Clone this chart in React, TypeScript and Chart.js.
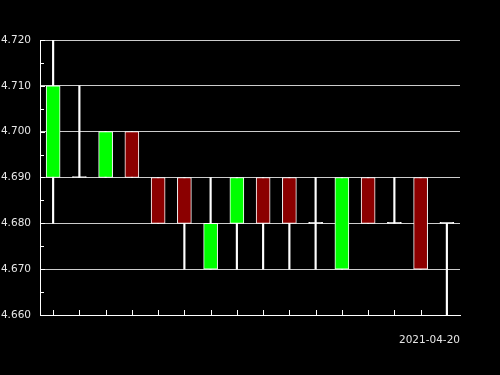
import React, { useEffect, useRef } from 'react';
import { Chart, registerables } from 'chart.js';

Chart.register(...registerables);

// Session of 2021-04-20, one candle per period
const categories = [
  '00:00', '01:00', '02:00', '03:00', '04:00', '05:00', '06:00', '07:00',
  '08:00', '09:00', '10:00', '11:00', '12:00', '13:00', '14:00', '15:00',
];
const opens = [4.69, 4.69, 4.69, 4.7, 4.69, 4.69, 4.67, 4.68, 4.69, 4.69, 4.68, 4.67, 4.69, 4.68, 4.69, 4.68];
const highs = [4.72, 4.71, 4.7, 4.7, 4.69, 4.69, 4.69, 4.69, 4.69, 4.69, 4.69, 4.69, 4.69, 4.69, 4.69, 4.68];
const lows = [4.68, 4.69, 4.69, 4.69, 4.68, 4.67, 4.67, 4.67, 4.67, 4.67, 4.67, 4.67, 4.68, 4.68, 4.67, 4.66];
const closes = [4.71, 4.69, 4.7, 4.69, 4.68, 4.68, 4.68, 4.69, 4.68, 4.68, 4.68, 4.69, 4.68, 4.68, 4.67, 4.68];

const dateLabel = '2021-04-20';
const yMin = 4.66;
const yMax = 4.72;
const yStep = 0.01;

const UP = '#00ff00';
const DOWN = '#8b0000';
const EDGE = '#ffffff';
const GRID = '#cccccc';
const TEXT = '#e6e6e6';
const FONT = 'DejaVu Sans';
const FONT_SIZE = 10.5;

// Tick marks pointing into the plot area, with minor ticks on the value axis
const inwardTicks = {
  id: 'inwardTicks',
  afterDatasetsDraw(chart: any) {
    const { ctx, chartArea, scales } = chart;
    const xs = scales.x;
    const ys = scales.y;
    ctx.save();
    ctx.strokeStyle = EDGE;
    ctx.lineWidth = 1;
    ctx.beginPath();
    xs.ticks.forEach((_: any, i: number) => {
      const px = Math.round(xs.getPixelForTick(i)) + 0.5;
      ctx.moveTo(px, chartArea.bottom);
      ctx.lineTo(px, chartArea.bottom - 5);
    });
    ys.ticks.forEach((_: any, i: number) => {
      const py = Math.round(ys.getPixelForTick(i)) + 0.5;
      ctx.moveTo(chartArea.left, py);
      ctx.lineTo(chartArea.left + 5, py);
    });
    for (let i = 0; i < ys.ticks.length - 1; i++) {
      const v = (ys.ticks[i].value + ys.ticks[i + 1].value) / 2;
      const py = Math.round(ys.getPixelForValue(v)) + 0.5;
      ctx.moveTo(chartArea.left, py);
      ctx.lineTo(chartArea.left + 4, py);
    }
    ctx.stroke();
    ctx.restore();
  },
};

const blackBackground = {
  id: 'blackBackground',
  beforeDraw(chart: any) {
    const { ctx, width, height } = chart;
    ctx.save();
    ctx.fillStyle = '#000000';
    ctx.fillRect(0, 0, width, height);
    ctx.restore();
  },
};

export default function App() {
  const canvasRef = useRef<HTMLCanvasElement | null>(null);

  useEffect(() => {
    document.body.style.margin = '0';
    document.body.style.background = '#000000';
    const canvas = canvasRef.current;
    if (!canvas) return;

    const bodyColors = opens.map((o, i) =>
      closes[i] > o ? UP : closes[i] < o ? DOWN : EDGE
    );

    const chart = new Chart(canvas, {
      type: 'bar',
      data: {
        labels: categories,
        datasets: [
          {
            label: 'wick',
            data: categories.map((_, i) => [lows[i], highs[i]]),
            backgroundColor: EDGE,
            borderWidth: 0,
            barThickness: 1.5,
            grouped: false,
            order: 2,
          },
          {
            label: 'body',
            data: categories.map((_, i) => [opens[i], closes[i]]),
            backgroundColor: bodyColors,
            borderColor: EDGE,
            borderWidth: 1,
            borderSkipped: false,
            barThickness: 14,
            minBarLength: 1,
            grouped: false,
            order: 1,
          },
        ] as any,
      },
      options: {
        responsive: false,
        animation: false,
        events: [],
        layout: { padding: { top: 40, right: 40, left: 0, bottom: 0 } },
        plugins: {
          legend: { display: false },
          tooltip: { enabled: false },
        },
        scales: {
          x: {
            type: 'category',
            offset: true,
            grid: { display: false },
            border: { display: true, color: EDGE, width: 1, z: 1 },
            ticks: { display: false },
            title: {
              display: true,
              text: dateLabel,
              align: 'end',
              color: TEXT,
              font: { family: FONT, size: FONT_SIZE },
              padding: { top: 0, bottom: 28 },
            },
            afterFit(scale: any) {
              scale.height = 60;
            },
          },
          y: {
            type: 'linear',
            min: yMin,
            max: yMax,
            grid: { display: true, color: GRID, lineWidth: 1, drawTicks: false },
            border: { display: true, color: EDGE, width: 1, z: 1 },
            ticks: {
              stepSize: yStep,
              padding: 9,
              color: TEXT,
              font: { family: FONT, size: FONT_SIZE },
              callback: (v: any) => Number(v).toFixed(3),
            },
            afterFit(scale: any) {
              scale.width = 40;
            },
          },
        },
      } as any,
      plugins: [blackBackground, inwardTicks],
    });

    return () => chart.destroy();
  }, []);

  return (
    <div style={{ width: 500, height: 375, background: '#000000' }}>
      <canvas ref={canvasRef} width={500} height={375} style={{ display: 'block' }} />
    </div>
  );
}
